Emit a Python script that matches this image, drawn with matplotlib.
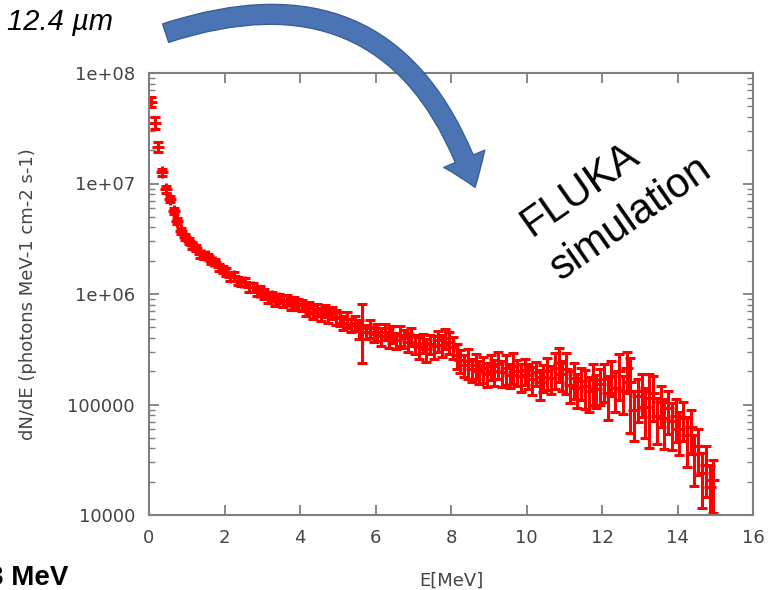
import numpy as np
import matplotlib
matplotlib.use("Agg")
import matplotlib.pyplot as plt
from matplotlib.patches import FancyArrowPatch

# energy bins (0.1 MeV wide, centres)
BIN_WIDTH = 0.1
N_BINS = 150

# log10 of dN/dE, one row per MeV
log_flux = [
    7.74, 7.55, 7.33, 7.10, 6.95, 6.86, 6.75, 6.66, 6.57, 6.52,
    6.48, 6.44, 6.42, 6.36, 6.35, 6.34, 6.30, 6.29, 6.24, 6.22,
    6.20, 6.15, 6.16, 6.12, 6.11, 6.11, 6.06, 6.06, 6.02, 6.03,
    6.00, 5.97, 5.98, 5.95, 5.96, 5.94, 5.95, 5.92, 5.93, 5.91,
    5.90, 5.87, 5.88, 5.84, 5.86, 5.82, 5.85, 5.81, 5.83, 5.79,
    5.78, 5.74, 5.77, 5.72, 5.74, 5.69, 5.72, 5.66, 5.69, 5.64,
    5.66, 5.62, 5.66, 5.61, 5.64, 5.58, 5.63, 5.60, 5.57, 5.62,
    5.55, 5.52, 5.56, 5.50, 5.55, 5.53, 5.58, 5.54, 5.60, 5.57,
    5.52, 5.45, 5.40, 5.36, 5.39, 5.32, 5.36, 5.30, 5.33, 5.28,
    5.35, 5.30, 5.37, 5.29, 5.33, 5.27, 5.35, 5.30, 5.26, 5.31,
    5.27, 5.23, 5.29, 5.20, 5.25, 5.30, 5.24, 5.33, 5.38, 5.28,
    5.32, 5.18, 5.24, 5.15, 5.21, 5.17, 5.12, 5.22, 5.14, 5.19,
    5.23, 5.10, 5.26, 5.15, 5.30, 5.12, 5.33, 5.20, 4.95, 5.08,
    5.12, 4.98, 5.06, 5.10, 4.90, 5.02, 4.88, 4.97, 4.85, 4.90,
    4.78, 4.88, 4.72, 4.80, 4.55, 4.62, 4.38, 4.45, 4.25, 4.32,
]

# relative error per bin
rel_err = [
    0.10, 0.12, 0.10, 0.08, 0.07, 0.07, 0.06, 0.06, 0.06, 0.06,
    0.06, 0.07, 0.06, 0.07, 0.07, 0.06, 0.07, 0.07, 0.08, 0.07,
    0.08, 0.08, 0.09, 0.08, 0.09, 0.08, 0.10, 0.09, 0.09, 0.10,
    0.10, 0.11, 0.10, 0.12, 0.10, 0.12, 0.11, 0.13, 0.11, 0.12,
    0.12, 0.14, 0.12, 0.15, 0.13, 0.14, 0.12, 0.16, 0.13, 0.15,
    0.15, 0.14, 0.17, 0.14, 0.16, 0.20, 0.55, 0.15, 0.18, 0.16,
    0.17, 0.18, 0.16, 0.20, 0.18, 0.17, 0.21, 0.18, 0.20, 0.19,
    0.20, 0.22, 0.19, 0.23, 0.20, 0.24, 0.21, 0.22, 0.20, 0.23,
    0.22, 0.25, 0.24, 0.22, 0.30, 0.24, 0.26, 0.23, 0.27, 0.25,
    0.25, 0.27, 0.28, 0.26, 0.30, 0.25, 0.32, 0.26, 0.28, 0.27,
    0.26, 0.28, 0.25, 0.30, 0.27, 0.32, 0.28, 0.36, 0.34, 0.30,
    0.40, 0.32, 0.36, 0.34, 0.32, 0.38, 0.35, 0.40, 0.33, 0.36,
    0.38, 0.42, 0.35, 0.40, 0.45, 0.38, 0.40, 0.65, 0.48, 0.42,
    0.42, 0.48, 0.65, 0.44, 0.45, 0.40, 0.48, 0.42, 0.45, 0.42,
    0.42, 0.38, 0.48, 0.42, 0.48, 0.45, 0.52, 0.48, 0.55, 0.50,
]

x_ticks = [0, 2, 4, 6, 8, 10, 12, 14, 16]
y_ticks = [1e4, 1e5, 1e6, 1e7, 1e8]
y_tick_labels = ["10000", "100000", "1e+06", "1e+07", "1e+08"]

energy = (np.arange(N_BINS) + 0.5) * BIN_WIDTH
flux = 10 ** np.array(log_flux)
err = flux * np.array(rel_err)

W, H = 778, 590
fig = plt.figure(figsize=(W / 100, H / 100), dpi=100)
ax = fig.add_axes([149 / W, 1 - 515 / H, (753 - 149) / W, (515 - 73) / H])

ax.errorbar(energy, flux, yerr=err, fmt="+", color="#ff0000", ms=8, mew=2.2,
            elinewidth=2.2, capsize=3.5, capthick=2.2)

ax.set_yscale("log")
ax.set_xlim(0, 16)
ax.set_ylim(1e4, 1e8)
ax.set_xticks(x_ticks)
ax.set_yticks(y_ticks)
ax.set_yticklabels(y_tick_labels)

grey = "#7f7f7f"
txt = "#444444"
for s in ax.spines.values():
    s.set_color(grey)
    s.set_linewidth(1.5)
ax.tick_params(which="both", direction="in", top=True, right=True, color=grey,
               labelcolor=txt, labelsize=13)
ax.tick_params(which="major", length=7, width=1.3, pad=10)
ax.tick_params(which="minor", length=4, width=1.0)
ax.tick_params(axis="x", which="minor", bottom=False, top=False)

ax.set_xlabel("E[MeV]", fontsize=13, color=txt, labelpad=18)
ax.set_ylabel("dN/dE (photons MeV-1 cm-2 s-1)", fontsize=13, color=txt, labelpad=22)

# slide annotations around the plot
fig.text(7 / W, 1 - 22 / H, "12.4 µm", fontsize=21, style="italic",
         family="Liberation Sans", ha="left", va="center")
fig.text(-12 / W, 1 - 578 / H, "3 MeV", fontsize=20, weight="bold",
         family="Liberation Sans", ha="left", va="center")
fig.text(580 / W, 1 - 190 / H, "FLUKA", fontsize=30, rotation=35,
         family="Liberation Sans", ha="center", va="center", rotation_mode="anchor")
fig.text(631 / W, 1 - 218 / H, "simulation", fontsize=30, rotation=35,
         family="Liberation Sans", ha="center", va="center", rotation_mode="anchor")

arrow = FancyArrowPatch((163 / W, 1 - 34 / H), (476 / W, 1 - 190 / H),
                        transform=fig.transFigure,
                        connectionstyle="arc3,rad=-0.5",
                        arrowstyle="simple,head_width=0.8,head_length=0.55,tail_width=0.35",
                        mutation_scale=40, facecolor="#4a74b4", edgecolor="#3a5f94",
                        linewidth=1.0)
fig.add_artist(arrow)

fig.savefig("out.png", dpi=100)
